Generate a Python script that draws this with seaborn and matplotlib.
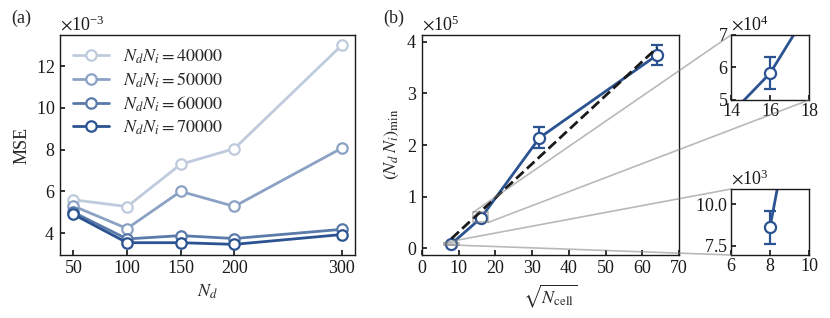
import numpy as np
import pandas as pd
import matplotlib
matplotlib.use("Agg")
import matplotlib.pyplot as plt
from matplotlib.patches import Rectangle, ConnectionPatch
import seaborn as sns

# data, panel (a): MSE vs N_d for several N_d*N_i budgets
nd = [50, 100, 150, 200, 300]
budgets = ["40000", "50000", "60000", "70000"]
mse_40k = [5.6e-3, 5.27e-3, 7.3e-3, 8.05e-3, 13.0e-3]
mse_50k = [5.3e-3, 4.22e-3, 6.0e-3, 5.28e-3, 8.07e-3]
mse_60k = [5.0e-3, 3.72e-3, 3.88e-3, 3.74e-3, 4.18e-3]
mse_70k = [4.9e-3, 3.54e-3, 3.54e-3, 3.46e-3, 3.93e-3]

# data, panel (b): minimal N_d*N_i vs sqrt(N_cell)
sqrt_ncell = [8, 16, 32, 64]
ndni_min = [8600, 58200, 214000, 374000]
ndni_err = [1000, 4900, 20000, 20000]

# colours: one blue, lightened towards white
c = ["#bfcbdd", "#8ba2c4", "#5a7aaa", "#2b5391"]
blue = "#2b5391"

sns.set_theme(style="ticks")
plt.rcParams.update({
    "font.family": ["Liberation Serif", "DejaVu Serif"],
    "mathtext.fontset": "stix",
    "font.size": 13,
    "axes.labelsize": 13,
    "xtick.labelsize": 13,
    "ytick.labelsize": 13,
    "legend.fontsize": 13,
    "xtick.direction": "in",
    "ytick.direction": "in",
    "xtick.major.size": 3.5,
    "ytick.major.size": 3.5,
    "axes.linewidth": 1.0,
    "axes.edgecolor": "k",
    "xtick.color": "k",
    "ytick.color": "k",
})

W, H = 830, 318
fig = plt.figure(figsize=(W / 100, H / 100), dpi=100)

def px(x0, x1, y0, y1):
    return [x0 / W, 1 - y1 / H, (x1 - x0) / W, (y1 - y0) / H]

# ---- panel (a)
ax1 = fig.add_axes(px(60, 355, 35, 255))
df = pd.DataFrame({
    "Nd": nd * 4,
    "MSE": mse_40k + mse_50k + mse_60k + mse_70k,
    "budget": sum([[b] * len(nd) for b in budgets], []),
})
for i, b in enumerate(budgets):
    sub = df[df["budget"] == b]
    sns.lineplot(data=sub, x="Nd", y="MSE", ax=ax1, color=c[i], lw=2,
                 marker="o", ms=7.5, mfc="white", mec=c[i], mew=1.6,
                 label=r"$N_dN_i=%s$" % b)
ax1.set_xticks(nd)
ax1.set_xlim(37.5, 312.5)
ax1.set_ylim(2.95e-3, 13.5e-3)
ax1.set_yticks([4e-3, 6e-3, 8e-3, 10e-3, 12e-3])
ax1.ticklabel_format(axis="y", style="sci", scilimits=(-3, -3), useMathText=True)
ax1.set_xlabel(r"$N_d$")
ax1.set_ylabel("MSE")
ax1.legend(loc="upper left", frameon=False, handlelength=2.0,
           handletextpad=0.8, labelspacing=0.25, borderaxespad=0.3)
fig.text(11 / W, 1 - 18 / H, "(a)", fontsize=13, va="center")

# ---- panel (b)
ax2 = fig.add_axes(px(422, 679, 34.5, 255))

def draw_b(ax, ms=8):
    ax.errorbar(sqrt_ncell, ndni_min, yerr=ndni_err, fmt="none",
                ecolor=blue, elinewidth=1.6, capsize=4, capthick=1.6)
    sns.lineplot(x=sqrt_ncell, y=ndni_min, ax=ax, color=blue, lw=2,
                 marker="o", ms=ms, mfc="white", mec=blue, mew=1.6)

draw_b(ax2)
sns.regplot(x=sqrt_ncell, y=ndni_min, ax=ax2, ci=None, scatter=False,
            truncate=True, line_kws=dict(color="k", ls="--", lw=2))
ax2.set_xlim(0, 70)
ax2.set_ylim(-0.13e5, 4.14e5)
ax2.set_xticks(range(0, 71, 10))
ax2.set_yticks([0, 1e5, 2e5, 3e5, 4e5])
ax2.ticklabel_format(axis="y", style="sci", scilimits=(5, 5), useMathText=True)
ax2.set_xlabel(r"$\sqrt{N_\mathrm{cell}}$")
ax2.set_ylabel(r"$(N_d\,N_i)_\mathrm{min}$")
fig.text(383 / W, 1 - 18 / H, "(b)", fontsize=13, va="center")

# insets
ins1 = fig.add_axes(px(731, 809, 35, 100))
draw_b(ins1)
ins1.set_xlim(14, 18)
ins1.set_ylim(5e4, 7e4)
ins1.set_xticks([14, 16, 18])
ins1.set_yticks([5e4, 6e4, 7e4])
ins1.ticklabel_format(axis="y", style="sci", scilimits=(4, 4), useMathText=True)
ins1.tick_params(pad=2)

ins2 = fig.add_axes(px(731, 809, 189, 255))
draw_b(ins2)
ins2.set_xlim(6, 10)
ins2.set_ylim(6950, 10900)
ins2.set_xticks([6, 8, 10])
ins2.set_yticks([7500, 10000])
ins2.ticklabel_format(axis="y", style="sci", scilimits=(3, 3), useMathText=True)
ins2.tick_params(pad=2)

# zoom boxes and connector lines (corners in inset axes fraction)
def zoom_box(ins, corners):
    x0, x1 = ins.get_xlim()
    y0, y1 = ins.get_ylim()
    ax2.add_patch(Rectangle((x0, y0), x1 - x0, y1 - y0, fill=False,
                            ec="0.5", alpha=0.55, lw=1.2, zorder=4))
    for cx, cy in corners:
        con = ConnectionPatch(xyA=(cx, cy), coordsA=ins.transAxes,
                              xyB=(x0 + cx * (x1 - x0), y0 + cy * (y1 - y0)),
                              coordsB=ax2.transData, color="0.5",
                              alpha=0.55, lw=1.2)
        fig.add_artist(con)

for ins, corners in ((ins1, [(0, 1), (1, 0)]), (ins2, [(0, 0), (0, 1)])):
    ins.set_xlabel("")
    ins.set_ylabel("")
    zoom_box(ins, corners)

fig.savefig("out.png", dpi=100)
